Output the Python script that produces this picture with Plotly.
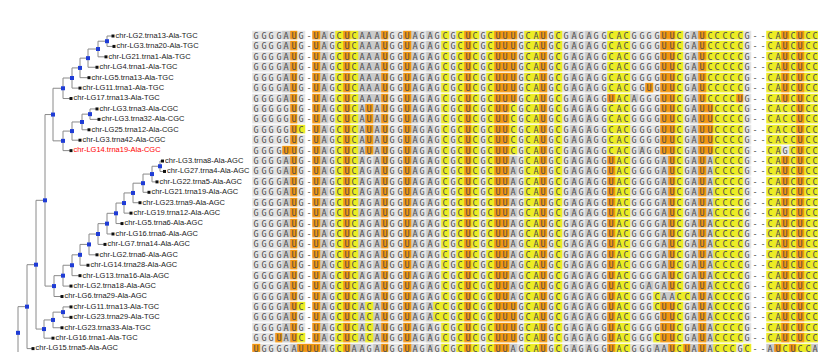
import plotly.graph_objects as go

# ---------------- data ----------------
# Clades of the tRNA-Ala gene tree. Each clade is a ladder: the first two
# tips form the innermost cherry, every following tip joins one level up.
# Branch lengths are in tree units.
tgc1_tips = ["chr-LG2.trna13-Ala-TGC", "chr-LG3.trna20-Ala-TGC", "chr-LG21.trna1-Ala-TGC",
             "chr-LG4.trna1-Ala-TGC", "chr-LG5.trna13-Ala-TGC", "chr-LG11.trna1-Ala-TGC",
             "chr-LG17.trna13-Ala-TGC"]
tgc1_tip_len = [0.06, 0.07, 0.08, 0.09, 0.09, 0.08, 0.08]
tgc1_stem_len = [0.09, 0.10, 0.08, 0.08, 0.09]

cgc_tips = ["chr-LG3.trna3-Ala-CGC", "chr-LG3.trna32-Ala-CGC", "chr-LG25.trna12-Ala-CGC",
            "chr-LG3.trna42-Ala-CGC", "chr-LG14.trna19-Ala-CGC"]
cgc_tip_len = [0.07, 0.09, 0.07, 0.08, 0.08]
cgc_stem_len = [0.08, 0.10, 0.09]

agc_tips = ["chr-LG3.trna8-Ala-AGC", "chr-LG27.trna4-Ala-AGC", "chr-LG22.trna5-Ala-AGC",
            "chr-LG21.trna19-Ala-AGC", "chr-LG23.trna9-Ala-AGC", "chr-LG19.trna12-Ala-AGC",
            "chr-LG5.trna6-Ala-AGC", "chr-LG16.trna6-Ala-AGC", "chr-LG7.trna14-Ala-AGC",
            "chr-LG2.trna6-Ala-AGC", "chr-LG14.trna28-Ala-AGC", "chr-LG13.trna16-Ala-AGC",
            "chr-LG2.trna18-Ala-AGC", "chr-LG6.trna29-Ala-AGC"]
agc_tip_len = [0.025, 0.045, 0.05, 0.06, 0.07, 0.07, 0.06, 0.06, 0.07, 0.08, 0.08, 0.08, 0.08, 0.08]
agc_stem_len = [0.08, 0.09, 0.10, 0.09, 0.08, 0.09, 0.09, 0.09, 0.09, 0.08, 0.09, 0.09]

tgc2_tips = ["chr-LG11.trna13-Ala-TGC", "chr-LG23.trna29-Ala-TGC", "chr-LG23.trna33-Ala-TGC",
             "chr-LG16.trna1-Ala-TGC"]
tgc2_tip_len = [0.08, 0.08, 0.09, 0.09]
tgc2_stem_len = [0.10, 0.09]

outer_tip = "chr-LG15.trna5-Ala-AGC"
outer_tip_len = 0.06

# lengths of the branches joining the clades above
join_len = {"tgc1": 0.10, "cgc": 0.10, "tgc_cgc": 0.08, "agc": 0.09,
            "ala_core": 0.09, "tgc2": 0.08, "ingroup": 0.09, "rest": 0.09}

highlight_tips = ["chr-LG14.trna19-Ala-CGC"]

seq_tgc = "GGGGAUG-UAGCUCAAAUGGUAGAGCGCUCGCUUUGCAUGCGAGAGGCACGGGGUUCGAUCCCCCG--CAUCUCC"
seq_cgc = "GGGGGUG-UAGCUCAUAUGGUAGAGCGCUCGCUUCGCAUGCGAGAGGCACGGGGUUCGAUUCCCCG--CACCUCC"
seq_agc = "GGGGAUG-UAGCUCAGAUGGUAGAGCGCUCGCUUAGCAUGCGAGAGGUACGGGGAUCGAUACCCCG--CAUCUCC"

sequences = {
    "chr-LG2.trna13-Ala-TGC": seq_tgc,
    "chr-LG3.trna20-Ala-TGC": seq_tgc,
    "chr-LG21.trna1-Ala-TGC": seq_tgc,
    "chr-LG4.trna1-Ala-TGC": seq_tgc,
    "chr-LG5.trna13-Ala-TGC": seq_tgc,
    "chr-LG11.trna1-Ala-TGC": "GGGGAUG-UAGCUCAAAUGGUAGAGCGCUCGCUUUGCAUGCGAGAGGCACGGUGUUCGAUCCCCCG--CAUCUCC",
    "chr-LG17.trna13-Ala-TGC": "GGGGAUG-UAGCUCAAAUGGUAGAGCGCUCGCUUUGCAUGCGAGAGGUACAGGGUUCGAUCCCCUG--CAUCUCC",
    "chr-LG3.trna3-Ala-CGC": seq_cgc,
    "chr-LG3.trna32-Ala-CGC": seq_cgc,
    "chr-LG25.trna12-Ala-CGC": "GGGGGUC-UAGCUCAUAUGGUAGAGCGCUCGCUUCGCAUGCGAGAGGCACGGGGUUCGAUUCCCCG--CACCUCC",
    "chr-LG3.trna42-Ala-CGC": seq_cgc,
    "chr-LG14.trna19-Ala-CGC": "GGGGUUG-UAGCUCAUAUGGUAGAGCGCUCGCUUCGCAUGCGAGAGGCACGAGGUUCGAUUCCCCG--CAGCUCC",
    "chr-LG3.trna8-Ala-AGC": seq_agc,
    "chr-LG27.trna4-Ala-AGC": seq_agc,
    "chr-LG22.trna5-Ala-AGC": seq_agc,
    "chr-LG21.trna19-Ala-AGC": seq_agc,
    "chr-LG23.trna9-Ala-AGC": seq_agc,
    "chr-LG19.trna12-Ala-AGC": seq_agc,
    "chr-LG5.trna6-Ala-AGC": seq_agc,
    "chr-LG16.trna6-Ala-AGC": seq_agc,
    "chr-LG7.trna14-Ala-AGC": seq_agc,
    "chr-LG2.trna6-Ala-AGC": seq_agc,
    "chr-LG14.trna28-Ala-AGC": seq_agc,
    "chr-LG13.trna16-Ala-AGC": seq_agc,
    "chr-LG2.trna18-Ala-AGC": "GGGGAUG-UAGCUCAGAUGGUAGAGCGCUCGCUUAGCAUGCGAGAGGUACGGAGAUCGAUACCCCG--CAUCUCC",
    "chr-LG6.trna29-Ala-AGC": "GGGGAUG-UAGCUCAGAUGGUAGAGCGCUCGCUUAGCAUGCGAGAGGUACGGGCAACCAUACCCCG--CAUCUCC",
    "chr-LG11.trna13-Ala-TGC": "GGGGAUC-UAGCUCACAUGGUAGACCGCUCGCUUUGCAUGCGAGAGGUACGGGCUUCGAUACCCCG--CAUCUCC",
    "chr-LG23.trna29-Ala-TGC": "GGGGAUG-UAGCUCACAUGGUAGACCGCUCGCUUUGCAUGCGAGAGGUACGGGGUUCGAUACCCCG--CAUCUCC",
    "chr-LG23.trna33-Ala-TGC": "GGGGAUG-UAGCUCACAUGGUAGAGCGCUCGCUUUGCAUGCGAGAGGUACGGGGUUCGAUACCCCG--CAUCUCC",
    "chr-LG16.trna1-Ala-TGC": "GGGUAUC-UAGCUCACAUGGUAGAGCGCUCGCUUUGCAUGCGAGAGGUACGGGCUUCGAUACCCCG--CAUCUCC",
    "chr-LG15.trna5-Ala-AGC": "UGGGGAUUUAGCUAAGAUGGUAGAGCGCUCGCUUAGCAUGCGAGAGGUACGGGAAUCUAUACCCGC--AUCUCCA",
}

# alignment columns where A is shaded with the C colour
a_shaded_cols = [37, 48, 69]


# ---------------- tree construction / layout ----------------
def tip(name, length):
    return {"name": name, "len": length, "children": []}


def join(a, la, b, lb):
    a["len"], b["len"] = la, lb
    return {"name": "", "len": 0.0, "children": [a, b]}


def ladder(names, tip_lens, stem_lens):
    node = join(tip(names[0], tip_lens[0]), tip_lens[0], tip(names[1], tip_lens[1]), tip_lens[1])
    for i, nm in enumerate(names[2:]):
        node = join(node, stem_lens[i], tip(nm, tip_lens[i + 2]), tip_lens[i + 2])
    return node


tgc1 = ladder(tgc1_tips, tgc1_tip_len, tgc1_stem_len)
cgc = ladder(cgc_tips, cgc_tip_len, cgc_stem_len)
agc = ladder(agc_tips, agc_tip_len, agc_stem_len)
tgc2 = ladder(tgc2_tips, tgc2_tip_len, tgc2_stem_len)

tgc_cgc = join(tgc1, join_len["tgc1"], cgc, join_len["cgc"])
ala_core = join(tgc_cgc, join_len["tgc_cgc"], agc, join_len["agc"])
ingroup = join(ala_core, join_len["ala_core"], tgc2, join_len["tgc2"])
with_outer = join(ingroup, join_len["ingroup"], tip(outer_tip, outer_tip_len), outer_tip_len)
# the remaining lineages continue below the shown rows
tree = join(with_outer, join_len["rest"], tip("", join_len["rest"]), join_len["rest"])

root_x = 0.18
tips = []


def layout(n, x):
    n["x"] = x + n["len"]
    if not n["children"]:
        n["y"] = len(tips)
        tips.append(n)
    else:
        for c in n["children"]:
            layout(c, n["x"])
        n["y"] = (n["children"][0]["y"] + n["children"][-1]["y"]) / 2


layout(tree, root_x)

hx, hy, vx, vy = [], [], [], []
inner_x, inner_y = [], []


def edges(n):
    if n["children"]:
        inner_x.append(n["x"])
        inner_y.append(n["y"])
        ys = [c["y"] for c in n["children"]]
        vx.extend([n["x"], n["x"], None])
        vy.extend([min(ys), max(ys), None])
        for c in n["children"]:
            hx.extend([n["x"], c["x"], None])
            hy.extend([c["y"], c["y"], None])
            edges(c)


edges(tree)

named = [t for t in tips if t["name"]]

# ---------------- alignment matrix ----------------
rows = [sequences[t["name"]] for t in named]
ncol = max(len(r) for r in rows)


def cell_class(ch, col):
    if ch == "U":
        return 3
    if ch == "C":
        return 2
    if ch == "A":
        return 2 if col in a_shaded_cols else 1
    if ch == "G":
        return 0.5
    return 0


z = [[cell_class(ch, j) for j, ch in enumerate(r)] for r in rows]
txt = [list(r) for r in rows]

colorscale = [
    [0.0, "#ffffff"], [0.08, "#ffffff"],
    [0.09, "#e4e4e4"], [0.25, "#e4e4e4"],
    [0.26, "#cacaca"], [0.5, "#cacaca"],
    [0.51, "#ecec24"], [0.83, "#ecec24"],
    [0.84, "#f2960f"], [1.0, "#f2960f"],
]

fig = go.Figure()

fig.add_trace(go.Heatmap(
    z=z, x=list(range(ncol)), y=[t["y"] for t in named],
    text=txt, texttemplate="%{text}",
    textfont=dict(family="DejaVu Sans Mono", size=8.5, color="#4d4d4d"),
    colorscale=colorscale, zmin=0, zmax=3, showscale=False,
    xgap=0, ygap=1.5, hoverinfo="skip",
    xaxis="x2", yaxis="y",
))

line_col = "#8a8a8a"
fig.add_trace(go.Scatter(x=hx, y=hy, mode="lines",
                         line=dict(color=line_col, width=1), hoverinfo="skip"))
fig.add_trace(go.Scatter(x=vx, y=vy, mode="lines",
                         line=dict(color=line_col, width=1), hoverinfo="skip"))
fig.add_trace(go.Scatter(x=inner_x, y=inner_y, mode="markers",
                         marker=dict(symbol="square", size=4, color="#1f3cd6"),
                         hoverinfo="skip"))
fig.add_trace(go.Scatter(x=[t["x"] for t in named], y=[t["y"] for t in named],
                         mode="markers",
                         marker=dict(symbol="square", size=3, color="#111111"),
                         hoverinfo="skip"))
fig.add_trace(go.Scatter(
    x=[t["x"] + 0.025 for t in named], y=[t["y"] for t in named],
    mode="text", text=[t["name"] for t in named], textposition="middle right",
    textfont=dict(family="Liberation Sans, Arial", size=7.5,
                  color=["#ff0000" if t["name"] in highlight_tips else "#1a1a1a"
                         for t in named]),
    hoverinfo="skip"))

W, H = 818, 352
row0_px, row_step = 36.0, 10.42
col0_px, col_step = 256.0, 7.56

fig.update_layout(
    width=W, height=H, margin=dict(l=0, r=0, t=0, b=0),
    paper_bgcolor="white", plot_bgcolor="white", showlegend=False,
    xaxis=dict(range=[0, W / 100], domain=[0, 1], visible=False, fixedrange=True),
    xaxis2=dict(range=[-col0_px / col_step, (W - col0_px) / col_step],
                domain=[0, 1], overlaying="x", visible=False, fixedrange=True),
    yaxis=dict(range=[(H - row0_px) / row_step, -row0_px / row_step],
               visible=False, fixedrange=True),
)

fig.write_html("out.html")
